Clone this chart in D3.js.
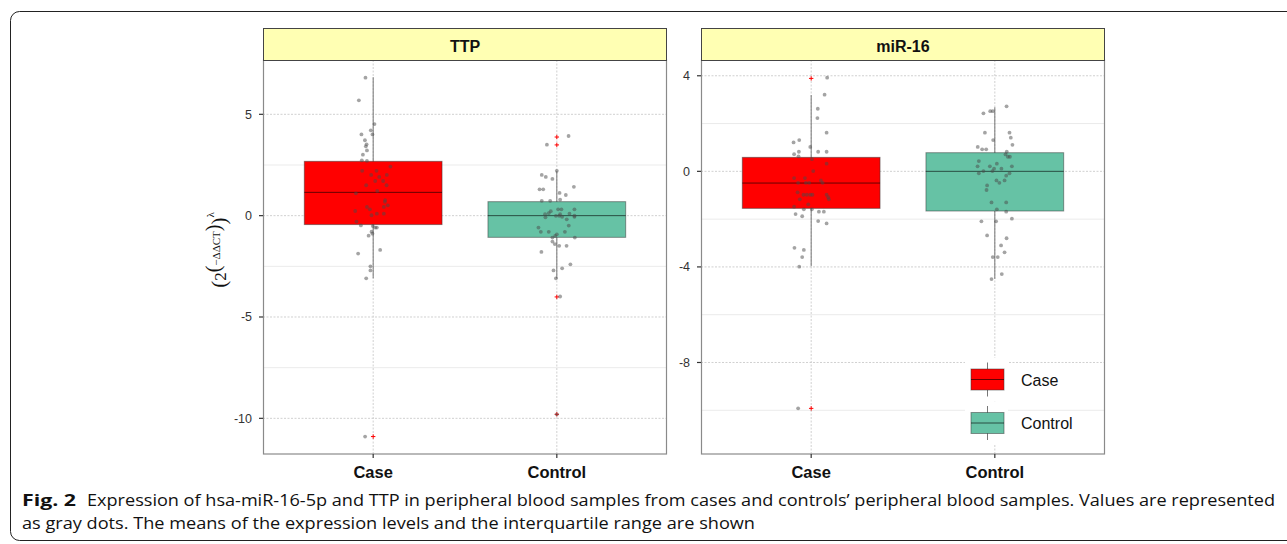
<!DOCTYPE html>
<html>
<head>
<meta charset="utf-8">
<script src="https://cdn.jsdelivr.net/npm/d3@7"></script>
<style>
  body { margin: 0; background: #fff; }
</style>
</head>
<body>
<svg id="chart" width="1287" height="544"></svg>
<script>
// groups and panels
var categories = ["Case", "Control"];
var panels = ["TTP", "miR-16"];
var groupColors = ["#ff0000", "#66c2a5"];

// box stats: [lower whisker, q1, median, q3, upper whisker]
var ttpCaseStats = [-3.09, -0.44, 1.15, 2.68, 6.83];
var ttpControlStats = [-3.09, -1.07, 0.0, 0.69, 2.20];
var mirCaseStats = [-3.97, -1.55, -0.49, 0.585, 3.19];
var mirControlStats = [-4.50, -1.66, 0.0, 0.78, 2.68];

// boxplot outliers (red crosses)
var ttpCaseOutliers = [-10.9];
var ttpControlOutliers = [3.88, 3.49, -4.01, -9.8];
var mirCaseOutliers = [3.89, -9.92];
var mirControlOutliers = [];

// jittered samples: [jitter (category units), value]
var ttpCasePoints = [
  [-0.042, 6.81], [-0.078, 5.69], [0.007, 4.52], [-0.013, 4.21], [-0.004, 4.01], [-0.064, 4.01],
  [-0.045, 3.72], [-0.036, 3.52], [-0.040, 3.42], [-0.034, 3.22], [-0.056, 3.01], [-0.062, 2.73],
  [-0.034, 2.70], [0.094, 2.42], [-0.060, 2.21], [0.018, 2.21], [-0.011, 2.01], [0.074, 2.01],
  [0.033, 1.91], [0.011, 1.71], [0.054, 1.71], [-0.038, 1.50], [0.073, 1.50], [0.022, 1.22],
  [-0.094, 1.10], [0.065, 0.77], [0.064, 0.68], [-0.034, 0.43], [0.080, 0.51], [-0.018, 0.31],
  [0.058, 0.43], [-0.098, 0.23], [0.020, 0.10], [-0.009, 0.02], [0.058, 0.10], [-0.091, -0.29],
  [-0.067, -0.48], [-0.002, -0.51], [0.020, -0.59], [0.011, -0.59], [-0.009, -0.79], [-0.004, -0.89],
  [-0.025, -0.99], [-0.082, -1.87], [0.038, -1.69], [-0.015, -2.50], [-0.015, -2.70], [-0.038, -3.09],
  [-0.044, -10.9]
];
var ttpControlPoints = [
  [0.064, 3.93], [-0.054, 3.50], [0.000, 2.21], [-0.082, 2.01], [-0.060, 1.91], [-0.024, 1.81],
  [0.093, 1.42], [-0.094, 1.30], [-0.074, 1.30], [0.015, 1.12], [0.049, 1.02], [-0.082, 0.73],
  [-0.036, 0.73], [0.018, 0.79], [0.007, 0.31], [0.025, 0.31], [0.096, 0.31], [-0.033, 0.22],
  [-0.044, 0.12], [-0.064, 0.07], [-0.062, -0.08], [-0.005, -0.01], [0.013, -0.01], [0.018, 0.07],
  [0.069, 0.10], [0.096, 0.00], [0.096, -0.06], [0.054, -0.18], [0.029, -0.06], [0.065, -0.49],
  [-0.100, -0.59], [-0.087, -0.80], [-0.044, -0.80], [0.044, -0.80], [0.000, -0.92], [-0.009, -1.00],
  [0.098, -1.08], [-0.024, -1.08], [-0.024, -1.28], [-0.011, -1.40], [0.013, -1.49], [0.053, -1.49],
  [-0.084, -1.79], [0.074, -2.40], [-0.018, -2.70], [0.029, -2.60], [-0.005, -3.09], [0.018, -3.99],
  [0.000, -9.8]
];
var mirCasePoints = [
  [0.087, 3.92], [0.073, 3.21], [0.036, 2.62], [0.034, 2.23], [0.084, 1.62], [-0.096, 1.21],
  [-0.065, 1.31], [-0.005, 1.02], [-0.067, 0.82], [-0.093, 0.72], [-0.069, 0.63], [0.038, 0.82],
  [0.084, 0.82], [0.004, 0.51], [0.084, 0.32], [0.011, 0.01], [-0.093, -0.28], [-0.071, -0.48],
  [-0.034, -0.28], [-0.029, -0.48], [-0.011, -0.48], [0.053, -0.38], [0.062, -0.48], [-0.042, -0.98],
  [-0.024, -0.98], [-0.005, -0.98], [0.007, -0.98], [-0.074, -0.88], [-0.062, -1.17], [0.084, -0.98],
  [0.093, -1.08], [0.096, -1.17], [-0.016, -1.38], [-0.093, -1.48], [-0.040, -1.59], [0.004, -1.59],
  [0.042, -1.69], [0.069, -1.69], [-0.085, -1.79], [-0.049, -1.88], [0.038, -2.08], [0.084, -2.18],
  [-0.091, -3.20], [-0.040, -3.29], [-0.049, -3.59], [-0.065, -3.99], [-0.071, -9.92]
];
var mirControlPoints = [
  [0.064, 2.72], [-0.062, 2.43], [-0.025, 2.52], [-0.011, 2.52], [-0.054, 1.62], [0.080, 1.62],
  [0.087, 1.41], [-0.009, 1.31], [0.096, 1.11], [-0.093, 1.02], [-0.069, 0.92], [-0.047, 0.92],
  [0.065, 0.82], [0.058, 0.71], [0.071, 0.61], [0.082, 0.61], [-0.087, 0.43], [0.011, 0.32],
  [-0.094, 0.21], [-0.027, 0.21], [0.093, 0.21], [-0.004, 0.11], [0.036, 0.11], [-0.062, 0.01],
  [-0.013, 0.01], [-0.087, -0.08], [0.080, -0.08], [0.062, -0.18], [0.009, -0.38], [0.053, -0.38],
  [0.025, -0.48], [-0.042, -0.59], [-0.045, -0.78], [-0.018, -1.30], [0.062, -1.30], [0.011, -1.59],
  [0.062, -1.69], [0.093, -1.98], [-0.073, -2.09], [0.007, -2.09], [-0.042, -2.68], [0.064, -2.80],
  [0.034, -3.10], [0.053, -3.39], [-0.011, -3.59], [0.016, -3.59], [0.038, -4.30], [-0.018, -4.51]
];

// axis ticks and ranges
var ttpTicks = [5, 0, -5, -10];
var ttpMinor = [2.5, -2.5, -7.5];
var ttpDomain = [-11.76, 7.68];
var mirTicks = [4, 0, -4, -8];
var mirMinor = [2, -2, -6, -10];
var mirDomain = [-11.83, 4.66];

var caption1 = "Expression of hsa-miR-16-5p and TTP in peripheral blood samples from cases and controls\u2019 peripheral blood samples. Values are represented";
var caption2 = "as gray dots. The means of the expression levels and the interquartile range are shown";

var svg = d3.select("#chart");

// outer figure frame
svg.append("rect")
  .attr("x", 10.5).attr("y", 11.5)
  .attr("width", 1300).attr("height", 529)
  .attr("rx", 9).attr("ry", 9)
  .attr("fill", "none")
  .attr("stroke", "#222")
  .attr("stroke-width", 1);

var panelW = 404, panelTop = 60, panelBottom = 454, stripTop = 28;

function drawPanel(left, title, ticks, minor, domain, stats, outliers, points, withLegend) {
  var g = svg.append("g").attr("transform", "translate(" + left + ",0)");

  var x = d3.scaleLinear().domain([0.4, 2.6]).range([0, panelW]);
  var y = d3.scaleLinear().domain(domain).range([panelBottom, panelTop]);

  // grid
  g.selectAll(".minor").data(minor).enter().append("line")
    .attr("x1", 0).attr("x2", panelW)
    .attr("y1", function (d) { return y(d); }).attr("y2", function (d) { return y(d); })
    .attr("stroke", "#ebebeb").attr("stroke-width", 1);
  g.selectAll(".major").data(ticks).enter().append("line")
    .attr("x1", 0).attr("x2", panelW)
    .attr("y1", function (d) { return y(d); }).attr("y2", function (d) { return y(d); })
    .attr("stroke", "#c4c4c4").attr("stroke-width", 0.8)
    .attr("stroke-dasharray", "2,1.5");
  g.selectAll(".vgrid").data(categories).enter().append("line")
    .attr("x1", function (d, i) { return x(i + 1); }).attr("x2", function (d, i) { return x(i + 1); })
    .attr("y1", panelTop).attr("y2", panelBottom)
    .attr("stroke", "#c4c4c4").attr("stroke-width", 0.8)
    .attr("stroke-dasharray", "2,1.5");

  // legend key backgrounds sit over the grid
  if (withLegend) {
    var lg = g.append("g");
    categories.forEach(function (c, i) {
      var cy = 379.5 + i * 43.5;
      lg.append("rect")
        .attr("x", 264).attr("y", cy - 21.5)
        .attr("width", 43).attr("height", 43)
        .attr("fill", "#fff");
      lg.append("line")
        .attr("x1", 286.5).attr("x2", 286.5)
        .attr("y1", cy - 17).attr("y2", cy + 17)
        .attr("stroke", "#777").attr("stroke-width", 1);
      lg.append("rect")
        .attr("x", 270).attr("y", cy - 10.5)
        .attr("width", 33).attr("height", 21)
        .attr("fill", groupColors[i])
        .attr("stroke", "#333").attr("stroke-opacity", 0.5).attr("stroke-width", 1);
      lg.append("line")
        .attr("x1", 270).attr("x2", 303)
        .attr("y1", cy).attr("y2", cy)
        .attr("stroke", "#000").attr("stroke-opacity", 0.6).attr("stroke-width", 1);
      lg.append("text")
        .attr("x", 320).attr("y", cy + 6)
        .attr("font-family", "Liberation Sans, Arial, sans-serif")
        .attr("font-size", "16px")
        .attr("fill", "#111")
        .text(c);
    });
  }

  // boxes
  stats.forEach(function (s, i) {
    var cx = x(i + 1);
    g.append("line")
      .attr("x1", cx).attr("x2", cx)
      .attr("y1", y(s[0])).attr("y2", y(s[4]))
      .attr("stroke", "#777").attr("stroke-width", 1);
    g.append("rect")
      .attr("x", x(i + 1 - 0.375))
      .attr("y", y(s[3]))
      .attr("width", x(i + 1 + 0.375) - x(i + 1 - 0.375))
      .attr("height", y(s[1]) - y(s[3]))
      .attr("fill", groupColors[i])
      .attr("stroke", "#333").attr("stroke-opacity", 0.5).attr("stroke-width", 1);
    g.append("line")
      .attr("x1", x(i + 1 - 0.375)).attr("x2", x(i + 1 + 0.375))
      .attr("y1", y(s[2])).attr("y2", y(s[2]))
      .attr("stroke", "#000").attr("stroke-opacity", 0.6).attr("stroke-width", 1);

    g.selectAll(".out" + i).data(outliers[i]).enter().append("path")
      .attr("transform", function (d) { return "translate(" + cx + "," + y(d) + ")"; })
      .attr("d", "M-2.2,0H2.2M0,-2.2V2.2")
      .attr("stroke", "#ff0000").attr("stroke-width", 1);
  });

  // jittered samples
  points.forEach(function (pts, i) {
    g.selectAll(".pt" + i).data(pts).enter().append("circle")
      .attr("cx", function (d) { return x(i + 1 + d[0]); })
      .attr("cy", function (d) { return y(d[1]); })
      .attr("r", 1.9)
      .attr("fill", "#4a4a4a")
      .attr("fill-opacity", 0.5);
  });

  // panel border
  g.append("rect")
    .attr("x", 0.5).attr("y", panelTop)
    .attr("width", panelW - 1).attr("height", panelBottom - panelTop)
    .attr("fill", "none")
    .attr("stroke", "#8a8a8a").attr("stroke-width", 1.2);

  // strip
  g.append("rect")
    .attr("x", 0.5).attr("y", stripTop + 0.5)
    .attr("width", panelW - 1).attr("height", panelTop - stripTop)
    .attr("fill", "#ffffb3")
    .attr("stroke", "#444").attr("stroke-width", 1);
  g.append("text")
    .attr("x", panelW / 2).attr("y", 51.5)
    .attr("text-anchor", "middle")
    .attr("font-family", "Liberation Sans, Arial, sans-serif")
    .attr("font-weight", "bold")
    .attr("font-size", "16px")
    .attr("fill", "#111")
    .text(title);

  // y axis
  var yAxis = g.append("g");
  yAxis.selectAll("line").data(ticks).enter().append("line")
    .attr("x1", -4).attr("x2", 0)
    .attr("y1", function (d) { return y(d); }).attr("y2", function (d) { return y(d); })
    .attr("stroke", "#333").attr("stroke-width", 1.2);
  yAxis.selectAll("text").data(ticks).enter().append("text")
    .attr("x", -11)
    .attr("y", function (d) { return y(d) + 4.5; })
    .attr("text-anchor", "end")
    .attr("font-family", "Liberation Sans, Arial, sans-serif")
    .attr("font-size", "12.5px")
    .attr("fill", "#333")
    .text(function (d) { return d; });

  // x axis
  var xAxis = g.append("g");
  xAxis.selectAll("line").data(categories).enter().append("line")
    .attr("x1", function (d, i) { return x(i + 1); }).attr("x2", function (d, i) { return x(i + 1); })
    .attr("y1", panelBottom).attr("y2", panelBottom + 4)
    .attr("stroke", "#333").attr("stroke-width", 1.2);
  xAxis.selectAll("text").data(categories).enter().append("text")
    .attr("x", function (d, i) { return x(i + 1); })
    .attr("y", 478)
    .attr("text-anchor", "middle")
    .attr("font-family", "Liberation Sans, Arial, sans-serif")
    .attr("font-weight", "bold")
    .attr("font-size", "16.5px")
    .attr("fill", "#111")
    .text(function (d) { return d; });
}

drawPanel(263, panels[0], ttpTicks, ttpMinor, ttpDomain,
  [ttpCaseStats, ttpControlStats],
  [ttpCaseOutliers, ttpControlOutliers],
  [ttpCasePoints, ttpControlPoints], false);

drawPanel(701, panels[1], mirTicks, mirMinor, mirDomain,
  [mirCaseStats, mirControlStats],
  [mirCaseOutliers, mirControlOutliers],
  [mirCasePoints, mirControlPoints], true);

// y axis title (2^(-ΔΔCT))^λ
var yTitle = svg.append("text")
  .attr("transform", "translate(226,250) rotate(-90)")
  .attr("text-anchor", "middle")
  .attr("font-family", "Liberation Serif, Times New Roman, serif")
  .attr("font-size", "17px")
  .attr("fill", "#111");
yTitle.append("tspan").attr("font-size", "21px").text("(");
yTitle.append("tspan").text("2");
yTitle.append("tspan").attr("font-size", "20px").attr("dy", -6).text("(");
yTitle.append("tspan").attr("font-size", "11px").text("\u2212\u0394\u0394CT");
yTitle.append("tspan").attr("font-size", "20px").text(")");
yTitle.append("tspan").attr("font-size", "21px").attr("dy", 6).text(")");
yTitle.append("tspan").attr("font-size", "11px").attr("dy", -12).text("\u03bb");

// caption
var capFont = "Open Sans, Noto Sans, sans-serif";
svg.append("text")
  .attr("x", 22).attr("y", 506)
  .attr("font-family", capFont)
  .attr("font-weight", "bold")
  .attr("font-size", "16px")
  .attr("fill", "#111")
  .attr("textLength", 54)
  .attr("lengthAdjust", "spacingAndGlyphs")
  .text("Fig. 2");
svg.append("text")
  .attr("x", 87).attr("y", 506)
  .attr("font-family", capFont)
  .attr("font-size", "16px")
  .attr("fill", "#111")
  .attr("textLength", 1188)
  .attr("lengthAdjust", "spacingAndGlyphs")
  .text(caption1);
svg.append("text")
  .attr("x", 22).attr("y", 529)
  .attr("font-family", capFont)
  .attr("font-size", "16px")
  .attr("fill", "#111")
  .attr("textLength", 733)
  .attr("lengthAdjust", "spacingAndGlyphs")
  .text(caption2);
</script>
</body>
</html>
